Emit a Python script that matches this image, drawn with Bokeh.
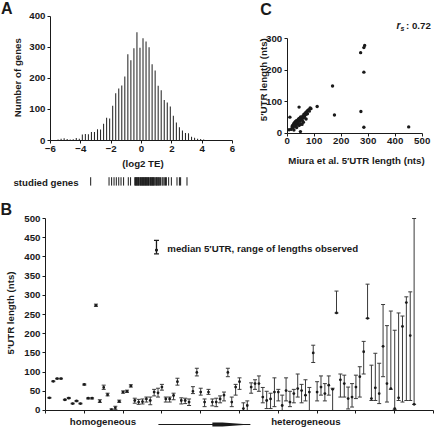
import math
from bokeh.plotting import figure
from bokeh.layouts import column, row
from bokeh.models import Range1d, FixedTicker, ColumnDataSource, Whisker, TeeHead
from bokeh.core.properties import value
from bokeh.embed import file_html
from bokeh.resources import INLINE

# ---------------- data ----------------
# A: histogram of translational efficiency (log2 TE), bins of 0.2
te_bin = [-5.9, -5.7, -5.5, -5.3, -5.1, -4.9, -4.7, -4.5, -4.3, -4.1,
          -3.9, -3.7, -3.5, -3.3, -3.1, -2.9, -2.7, -2.5, -2.3, -2.1,
          -1.9, -1.7, -1.5, -1.3, -1.1, -0.9, -0.7, -0.5, -0.3, -0.1,
          0.1, 0.3, 0.5, 0.7, 0.9, 1.1, 1.3, 1.5, 1.7, 1.9,
          2.1, 2.3, 2.5, 2.7, 2.9, 3.1, 3.3, 3.5, 3.7, 3.9,
          4.1, 4.3]
gene_count = [1, 2, 3, 6, 7, 5, 3, 4, 8, 6,
              19, 21, 20, 27, 27, 36, 35, 54, 73, 71,
              112, 152, 167, 177, 206, 277, 258, 297, 348, 298,
              329, 318, 300, 245, 225, 176, 162, 130, 122, 109,
              80, 58, 43, 32, 24, 23, 12, 9, 6, 5,
              3, 2]

# log2 TE of the genes studied in B
studied_te = [-3.35, -2.14, -1.97, -1.81, -1.66, -1.5, -1.35, -1.18, -0.87, -0.72,
              -0.44, -0.4, -0.36, -0.32, -0.28, -0.24, -0.2, -0.16, -0.1, -0.06,
              -0.02, 0.02, 0.06, 0.1, 0.14, 0.18, 0.22, 0.26, 0.3, 0.34,
              0.38, 0.42, 0.46, 0.5, 0.56, 0.6, 0.64, 0.68, 0.72, 0.76,
              0.8, 0.84, 0.9, 0.96, 1.0, 1.04, 1.1, 1.14, 1.2, 1.26,
              1.36, 1.42, 1.5, 1.58, 1.64, 1.79, 1.97, 2.34, 2.5, 2.58, 3.0]

# B: 5'UTR length per gene, ordered from homogeneous to heterogeneous
gene_idx = list(range(1, 96))
utr_median = [33, 76, 83, 83, 28, 32, 18, 25, 18, 68,
              32, 32, 274, 24, 60, 41, 2, 7, 24, 48,
              50, 64, 26, 22, 23, 30, 26, 48, 46, 61,
              30, 30, 39, 75, 26, 26, 22, 50, 99, 48,
              22, 48, 22, 22, 30, 40, 99, 22, 61, 75,
              5, 13, 61, 70, 70, 35, 26, 30, 48, 48,
              13, 52, 22, 44, 57, 52, 40, 48, 150, 48,
              61, 44, 66, 55, 254, 80, 70, 31, 35, 61,
              88, 153, 240, 31, 59, 44, 167, 70, 57, 5,
              33, 219, 281, 195, 16]
utr_min = [32, 75, 82, 82, 27, 31, 17, 23, 17, 66,
           30, 30, 271, 21, 55, 38, 0, 3, 21, 45,
           47, 61, 19, 16, 17, 22, 15, 38, 35, 53,
           22, 22, 28, 66, 17, 18, 13, 44, 90, 40,
           10, 42, 12, 10, 20, 25, 88, 10, 40, 55,
           0, 0, 45, 55, 50, 20, 5, 5, 10, 25,
           0, 25, 10, 20, 35, 20, 25, 0, 125, 25,
           40, 25, 40, 0, 254, 35, 35, 4, 9, 31,
           35, 95, 240, 26, 26, 18, 88, 22, 55, 3,
           26, 22, 26, 26, 16]
utr_max = [34, 77, 84, 84, 29, 34, 19, 26, 19, 69,
           33, 33, 277, 28, 66, 45, 4, 11, 27, 51,
           53, 67, 32, 29, 30, 35, 35, 55, 58, 68,
           35, 35, 45, 84, 33, 32, 30, 62, 110, 58,
           30, 55, 30, 32, 38, 48, 110, 35, 68, 85,
           20, 25, 72, 80, 90, 60, 50, 45, 85, 55,
           40, 85, 50, 55, 95, 68, 80, 60, 170, 75,
           90, 70, 90, 58, 311, 95, 92, 61, 70, 92,
           114, 180, 329, 118, 149, 123, 276, 221, 259, 209,
           254, 246, 296, 309, 500]

# C: 5'UTR length compared with Miura et al.
miura_len = [15, 18, 20, 22, 24, 25, 27, 28, 30, 30, 32, 33, 35, 36, 38, 40, 40, 42,
             43, 45, 46, 48, 50, 50, 52, 55, 56, 58, 60, 62, 64, 66, 68, 70, 72, 75,
             76, 80, 82, 85, 88, 60, 55, 35, 25, 45, 70, 10, 7, 44, 111, 49,
             168, 175, 272, 273, 284, 284, 287, 284, 450]
our_len = [12, 20, 25, 18, 30, 22, 28, 35, 24, 32, 38, 28, 40, 33, 30, 42, 36, 45,
           26, 38, 48, 42, 30, 52, 45, 50, 40, 55, 48, 60, 52, 58, 65, 60, 68, 62,
           72, 75, 70, 80, 78, 35, 28, 18, 10, 25, 45, 51, 11, 83, 85, 5,
           150, 58, 256, 69, 194, 19, 279, 272, 20]

# ---------------- styling helpers ----------------
FONT = "Liberation Sans"
INK = "#1a1a1a"
LBL = "9.7px"


def new_fig(w, h, xr, yr):
    p = figure(width=w, height=h, x_range=Range1d(*xr), y_range=Range1d(*yr),
               output_backend="svg", toolbar_location=None, min_border=0)
    p.grid.visible = False
    p.outline_line_color = None
    p.background_fill_color = "white"
    p.border_fill_color = "white"
    return p


def style_axis(ax, ticks, bounds, at, labels=True):
    ax.fixed_location = at
    ax.ticker = FixedTicker(ticks=ticks)
    ax.bounds = bounds
    ax.axis_line_color = INK
    ax.axis_line_width = 1
    ax.major_tick_line_color = INK
    ax.major_tick_out = 3
    ax.major_tick_in = 0
    ax.minor_tick_out = 0
    ax.minor_tick_in = 0
    ax.major_label_standoff = 2
    ax.major_label_text_font = FONT
    ax.major_label_text_font_size = LBL
    ax.major_label_text_font_style = "bold"
    ax.major_label_text_color = INK if labels else None


def txt(p, x, y, s, size=LBL, align="center", baseline="middle", angle=0.0, style="bold"):
    p.text(x=[x], y=[y], text=[s], text_font=value(FONT), text_font_size=size,
           text_font_style=style, text_align=align, text_baseline=baseline,
           angle=angle, text_color=INK)


# ---------------- A: TE histogram ----------------
pA = new_fig(250, 200, (-9.296, 7.187), (-192.9, 450.2))
pA.vbar(x=te_bin, top=gene_count, width=0.07, bottom=0,
        fill_color="#2a2a2a", line_color=None)
style_axis(pA.xaxis[0], [-6, -4, -2, 0, 2, 4, 6], (-6, 6), 0)
style_axis(pA.yaxis[0], [0, 100, 200, 300, 400], (0, 400), -6)
pA.segment(x0=studied_te, x1=studied_te, y0=-118, y1=-145, line_color=INK, line_width=1)
txt(pA, -8.44, -134, "studied genes", align="left")
txt(pA, 0.1, -74, "(log2 TE)")
txt(pA, -8.2, 202, "Number of genes", angle=math.pi / 2)
txt(pA, -9.27, 452, "A", size="16px", align="left", baseline="top")

# ---------------- C: comparison scatter ----------------
pC = new_fig(190, 200, (-135.9, 567.8), (-213.9, 421.7))
pC.scatter(miura_len, our_len, size=3.4, fill_color=INK, line_color=None)
style_axis(pC.xaxis[0], [0, 100, 200, 300, 400, 500], (0, 500), 0)
style_axis(pC.yaxis[0], [0, 100, 200, 300], (0, 300), 0)
txt(pC, -87.8, 170, "5\u2032UTR length (nts)", angle=math.pi / 2)
txt(pC, 256.7, -86.7, "Miura et al. 5\u2032UTR length (nts)")
txt(pC, -100, 420, "C", size="16px", align="left", baseline="top")
txt(pC, 405, 342, "r", size="10px", align="left", style="bold italic")
txt(pC, 420, 332, "s", size="7px", align="left", style="bold italic")
txt(pC, 440, 342, ": 0.72", size=LBL, align="left")

# ---------------- B: 5'UTR length ranges ----------------
pB = new_fig(440, 228, (-11.6, 101.8), (-46.9, 546.9))
src = ColumnDataSource(dict(x=gene_idx, lo=utr_min, hi=utr_max, med=utr_median))
pB.add_layout(Whisker(source=src, base="x", lower="lo", upper="hi",
                      line_color="#3a3a3a", line_width=1,
                      lower_head=TeeHead(size=4, line_color="#3a3a3a", line_width=1),
                      upper_head=TeeHead(size=4, line_color="#3a3a3a", line_width=1)))
pB.scatter("x", "med", source=src, size=2.8, fill_color=INK, line_color=None)
style_axis(pB.xaxis[0], list(range(0, 101, 10)), (0, 100), 0, labels=False)
style_axis(pB.yaxis[0], list(range(0, 501, 50)), (0, 500), 0)

# key for the range symbol
key = ColumnDataSource(dict(x=[28.6], lo=[408], hi=[443], med=[418]))
pB.add_layout(Whisker(source=key, base="x", lower="lo", upper="hi",
                      line_color=INK, line_width=1.3,
                      lower_head=TeeHead(size=5, line_color=INK, line_width=1.3),
                      upper_head=TeeHead(size=5, line_color=INK, line_width=1.3)))
pB.scatter("x", "med", source=key, size=3.2, fill_color=INK, line_color=None)
txt(pB, 31.4, 421.6, "median 5\u2032UTR, range of lengths observed", align="left")

txt(pB, -9.0, 254, "5\u2032UTR length (nts)", angle=math.pi / 2)
txt(pB, -11.6, 546, "B", size="16px", align="left", baseline="top")
txt(pB, 14.8, -28.6, "homogeneous")
txt(pB, 67.1, -28.6, "heterogeneous")

# heterogeneity arrow: thin shaft, widening into a tapered wedge
pB.segment(x0=[29.1], y0=[-36.5], x1=[52.8], y1=[-36.5], line_color=INK, line_width=1)
pB.patch(x=[43.0, 45.6, 52.8, 45.6, 43.0], y=[-31.5, -31.5, -36.5, -41.5, -41.5],
         color=INK, line_width=0)

layout = column(row(pA, pC), pB)
open("out.html", "w").write(file_html(layout, INLINE))
